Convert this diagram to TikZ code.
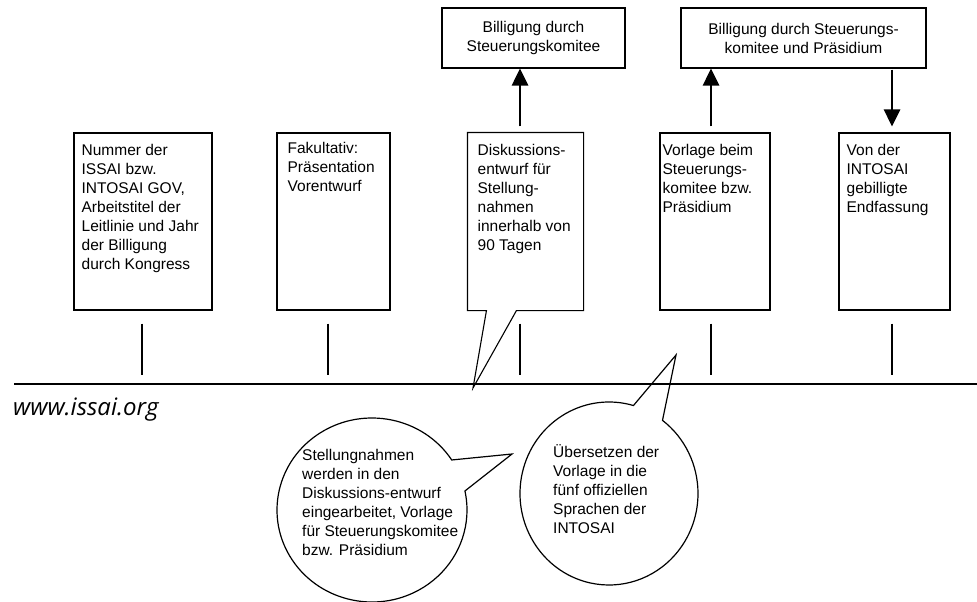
\documentclass[tikz,border=0pt]{standalone}
\usepackage{fontspec}
\setmainfont{Liberation Sans}
\newfontfamily\urlfont{Open Sans}
\usetikzlibrary{shapes.callouts,arrows.meta,calc}

\begin{document}
\begin{tikzpicture}[x=1pt,y=-1pt,
    stagebox/.style={draw,line width=1.1pt,minimum height=177pt,inner sep=0pt},
    topbox/.style={draw,line width=1.1pt,minimum height=60pt,inner sep=0pt,
      align=center,font=\fontsize{15.5}{19}\selectfont},
    txt/.style={font=\fontsize{15.5}{19}\selectfont,align=left,inner sep=0pt,anchor=north west},
    bubble/.style={ellipse callout,draw,line width=1.2pt,inner sep=0pt,callout pointer arc=21},
    tick/.style={line width=1.4pt},
    bigarrow/.style={line width=2.8pt,-{Triangle[width=16pt,length=17pt]}}]
    \useasboundingbox (0,0) rectangle (977,602);
    % timeline
    \coordinate (axis west) at (14,384);
    \coordinate (axis east) at (977,384);
    \draw[line width=2pt] (axis west) -- (axis east);
    \node[anchor=base west,inner sep=0pt,font=\urlfont\itshape\fontsize{24}{28}\selectfont]
        (www) at (13,415) {www.issai.org};
    \foreach \n/\x in {1/142,2/328,3/520,4/711,5/892}
        \coordinate (t\n) at (\x,384);

    % stages on the line
    \node[stagebox,minimum width=138pt] (s1) at (143,221.5) {};
    \node[stagebox,minimum width=113pt] (s2) at (333.5,221.5) {};
    \node[stagebox,minimum width=115pt,draw=none] (s3) at (525.5,221.5) {};
    \node[stagebox,minimum width=110pt] (s4) at (715,221.5) {};
    \node[stagebox,minimum width=111pt] (s5) at (894.5,221.5) {};
    \coordinate (tip3) at (473,388);
    \draw[line width=1.1pt] (s3.south west) -- (s3.north west) -- (s3.north east)
        -- (s3.south east) -- ($(s3.south west)+(49,0)$) -- (tip3)
        -- ($(s3.south west)+(19,0)$) -- cycle;

    \node[txt] (s1 text) at ($(s1.north west)+(8,12)$)
        {Nummer der\\ISSAI bzw.\\INTOSAI GOV,\\Arbeitstitel der\\Leitlinie und Jahr\\der Billigung\\durch Kongress};
    \node[txt] (s2 text) at ($(s2.north west)+(11,10)$)
        {Fakultativ:\\Präsentation\\Vorentwurf};
    \node[txt] (s3 text) at ($(s3.north west)+(10,12)$)
        {Diskussions-\\entwurf für\\Stellung-\\nahmen\\innerhalb von\\90 Tagen};
    \node[txt] (s4 text) at ($(s4.north west)+(3,12)$)
        {Vorlage beim\\Steuerungs-\\komitee bzw.\\Präsidium};
    \node[txt] (s5 text) at ($(s5.north west)+(8,12)$)
        {Von der\\INTOSAI\\gebilligte\\Endfassung};

    \foreach \n in {1,...,5}
        \draw[tick] ($(t\n|-s\n.south)+(0,13)$) -- ($(t\n)+(0,-9)$);

    % approvals
    \node[topbox,minimum width=183pt] (top1) at (533.5,38)
        {Billigung durch\\Steuerungskomitee};
    \node[topbox,minimum width=245pt] (top2) at (803.5,38)
        {Billigung durch Steuerungs-\\komitee und Präsidium};
    \draw[bigarrow] ($(t3|-s3.north)+(0,-6)$) -- (t3|-top1.south);
    \draw[bigarrow] ($(t4|-s4.north)+(0,-6)$) -- (t4|-top2.south);
    \draw[bigarrow] ($(t5|-top2.south)+(0,1)$) -- ($(t5|-s5.north)+(0,-6)$);

    % bubbles below the line
    \node[bubble,minimum width=190pt,minimum height=184pt,
        callout absolute pointer={(512,454)}] (b1) at (372,510) {};
    \node[bubble,minimum width=178pt,minimum height=183pt,
        callout absolute pointer={(676,355)}] (b2) at (609,493.5) {};
    \node[txt] (b1 text) at (302,449)
        {Stellungnahmen\\werden in den\\Diskussions-entwurf\\eingearbeitet, Vorlage\\für Steuerungskomitee\\bzw. Präsidium};
    \node[txt] (b2 text) at (553,444)
        {Übersetzen der\\Vorlage in die\\fünf offiziellen\\Sprachen der\\INTOSAI};
\end{tikzpicture}
\end{document}
